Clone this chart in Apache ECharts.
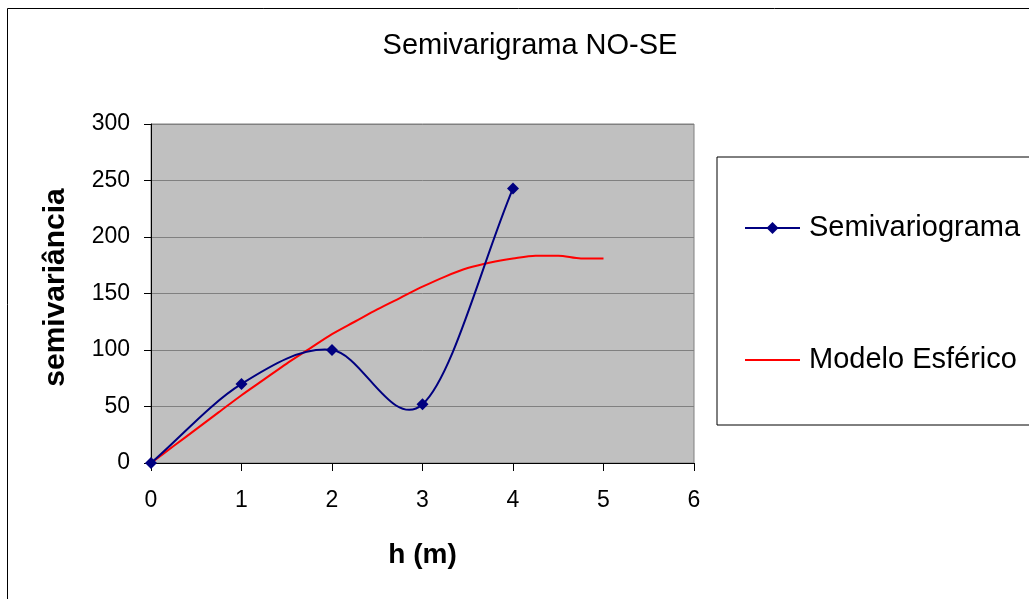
<!DOCTYPE html>
<html>
<head>
<meta charset="utf-8">
<script src="https://cdn.jsdelivr.net/npm/echarts@6/dist/echarts.min.js"></script>
<style>
  html, body { margin: 0; padding: 0; background: #ffffff; }
  #chart { width: 1029px; height: 599px; }
</style>
</head>
<body>
<div id="chart"></div>
<script>
// Experimental semivariogram (lag h in metres)
const semivarioH = [0, 1, 2, 3, 4];
const semivarioValues = [0, 70, 100, 52, 243];

// Fitted spherical model, sampled every 0.25 m
const modelH = [0, 0.25, 0.5, 0.75, 1, 1.25, 1.5, 1.75, 2, 2.25, 2.5, 2.75, 3, 3.25, 3.5, 3.75, 4, 4.25, 4.5, 4.75, 5];
const modelValues = [0, 15, 30, 45, 60, 74, 88, 101, 114, 125, 136, 146, 156, 165, 172.5, 177.5, 181, 183.5, 183.5, 181, 181];

const xTicks = [0, 1, 2, 3, 4, 5, 6];
const yTicks = [0, 50, 100, 150, 200, 250, 300];

const FONT = '"Liberation Sans", Arial, sans-serif';
const NAVY = '#000080';

const semivarioData = semivarioH.map((h, i) => [h, semivarioValues[i]]);

// Smoothed curve segment i -> i+1 (cardinal spline, tangents from neighbouring points;
// at the ends the tangent follows the end segment itself).
function renderSmoothSegment(params, api) {
  const i = params.dataIndex;
  const n = semivarioData.length;
  if (i >= n - 1) return null;
  const P = k => api.coord(semivarioData[Math.max(0, Math.min(n - 1, k))]);
  const p0 = P(i), p1 = P(i + 1);
  const prev = i > 0 ? P(i - 1) : [2 * p0[0] - p1[0], 2 * p0[1] - p1[1]];
  const next = i + 2 < n ? P(i + 2) : [2 * p1[0] - p0[0], 2 * p1[1] - p0[1]];
  const c1 = [p0[0] + (p1[0] - prev[0]) / 6, p0[1] + (p1[1] - prev[1]) / 6];
  const c2 = [p1[0] - (next[0] - p0[0]) / 6, p1[1] - (next[1] - p0[1]) / 6];
  return {
    type: 'bezierCurve',
    shape: { x1: p0[0], y1: p0[1], cpx1: c1[0], cpy1: c1[1], cpx2: c2[0], cpy2: c2[1], x2: p1[0], y2: p1[1] },
    style: { stroke: NAVY, lineWidth: 2, fill: 'none', lineCap: 'round' },
    silent: true
  };
}

const chart = echarts.init(document.getElementById('chart'), null, { renderer: 'canvas' });

chart.setOption({
  animation: false,
  backgroundColor: '#ffffff',
  title: {
    text: 'Semivarigrama NO-SE',
    left: 525,
    textAlign: 'center',
    top: 26,
    textStyle: { fontFamily: FONT, fontSize: 29, fontWeight: 'normal', color: '#000000' }
  },
  graphic: [{
    type: 'rect',
    shape: { x: 7.5, y: 8.5, width: 1200, height: 800 },
    style: { fill: 'none', stroke: '#000000', lineWidth: 1 },
    silent: true,
    z: -1
  }],
  grid: {
    left: 151,
    top: 124,
    right: 335,
    bottom: 136,
    show: true,
    backgroundColor: '#c0c0c0',
    borderColor: '#808080',
    borderWidth: 1
  },
  legend: {
    orient: 'vertical',
    left: 717,
    top: 157,
    padding: [56, 40, 50, 27],
    itemGap: 102,
    itemWidth: 55,
    itemHeight: 15,
    borderColor: '#000000',
    borderWidth: 1,
    backgroundColor: '#ffffff',
    textStyle: { fontFamily: FONT, fontSize: 29, color: '#000000', lineHeight: 30, padding: [0, 0, 0, 4] },
    data: [
      { name: 'Semivariograma', lineStyle: { opacity: 1, color: NAVY, width: 2 } },
      { name: 'Modelo Esférico', itemStyle: { opacity: 0 } }
    ]
  },
  xAxis: {
    type: 'value',
    min: 0,
    max: 6,
    interval: 1,
    name: 'h (m)',
    nameLocation: 'middle',
    nameGap: 78,
    nameTextStyle: { fontFamily: FONT, fontSize: 28, fontWeight: 'bold', color: '#000000' },
    axisLine: { show: true, onZero: false, lineStyle: { color: '#000000', width: 1 } },
    axisTick: { show: true, inside: false, length: 8, lineStyle: { color: '#000000' } },
    axisLabel: {
      fontFamily: FONT, fontSize: 23, color: '#000000', margin: 26,
      formatter: v => xTicks.includes(v) ? String(v) : ''
    },
    splitLine: { show: false }
  },
  yAxis: {
    type: 'value',
    min: 0,
    max: 300,
    interval: 50,
    name: 'semivariância',
    nameLocation: 'middle',
    nameGap: 80,
    nameTextStyle: { fontFamily: FONT, fontSize: 30, fontWeight: 'bold', color: '#000000', padding: [0, 0, 0, 12] },
    axisLine: { show: true, lineStyle: { color: '#000000', width: 1 } },
    axisTick: { show: true, inside: false, length: 7, lineStyle: { color: '#000000' } },
    axisLabel: {
      fontFamily: FONT, fontSize: 23, color: '#000000', margin: 21,
      formatter: v => yTicks.includes(v) ? String(v) : ''
    },
    splitLine: { show: true, lineStyle: { color: '#808080', width: 1 } }
  },
  series: [
    {
      name: 'Modelo Esférico',
      type: 'line',
      data: modelH.map((h, i) => [h, modelValues[i]]),
      smooth: 0.3,
      symbol: 'none',
      lineStyle: { color: '#ff0000', width: 2 },
      itemStyle: { color: '#ff0000' },
      z: 2
    },
    {
      name: 'Semivariograma',
      type: 'line',
      data: semivarioData,
      symbol: 'diamond',
      symbolSize: 12,
      lineStyle: { color: NAVY, width: 2, opacity: 0 },
      itemStyle: { color: NAVY },
      z: 4
    },
    {
      name: 'Semivariograma',
      type: 'custom',
      data: semivarioData,
      renderItem: renderSmoothSegment,
      z: 3
    }
  ]
});
</script>
</body>
</html>
